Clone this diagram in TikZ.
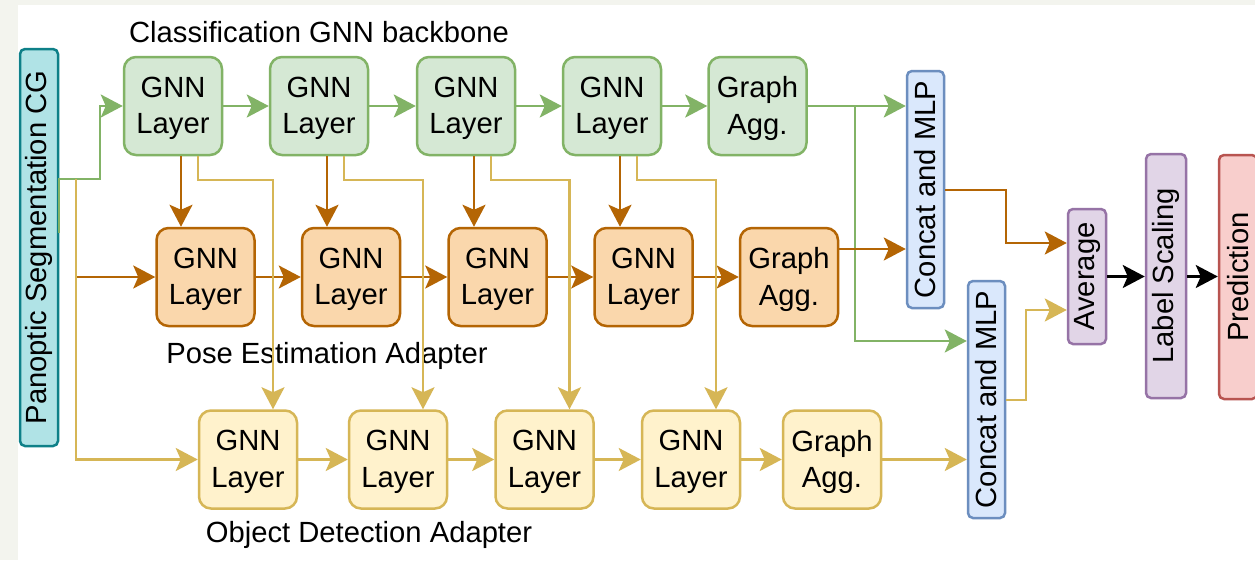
\documentclass[tikz,border=0pt]{standalone}
\usepackage{fontspec}
\setmainfont{Liberation Sans}
\usepackage{graphicx}
\usetikzlibrary{arrows.meta}

\definecolor{gstroke}{HTML}{82B366}\definecolor{gfill}{HTML}{D5E8D4}
\definecolor{ostroke}{HTML}{B46504}\definecolor{ofill}{HTML}{FAD7AC}
\definecolor{ystroke}{HTML}{D6B656}\definecolor{yfill}{HTML}{FFF2CC}
\definecolor{bstroke}{HTML}{6C8EBF}\definecolor{bfill}{HTML}{DAE8FC}
\definecolor{pstroke}{HTML}{9673A6}\definecolor{pfill}{HTML}{E1D5E7}
\definecolor{rstroke}{HTML}{B85450}\definecolor{rfill}{HTML}{F8CECC}
\definecolor{tstroke}{HTML}{0E8088}\definecolor{tfill}{HTML}{B0E3E6}
\definecolor{margin}{HTML}{F3F4EE}

\begin{document}
\begin{tikzpicture}[x=1pt,y=-1pt,
  lbl/.style={font=\fontsize{29.2}{36.6}\selectfont},
  box/.style={draw, line width=2.5pt, rounded corners=12pt,
    minimum width=98pt, minimum height=98pt, inner sep=0pt},
  boxtext/.style={label={[lbl, align=center, inner sep=0pt, yshift=-2.5pt]center:#1}},
  bar/.style={lbl, draw, line width=2.5pt, rounded corners=5pt, inner sep=0pt},
  gbox/.style={box, draw=gstroke, fill=gfill, boxtext=#1},
  obox/.style={box, draw=ostroke, fill=ofill, boxtext=#1},
  ybox/.style={box, draw=ystroke, fill=yfill, boxtext=#1},
  bluebar/.style={bar, draw=bstroke, fill=bfill},
  purplebar/.style={bar, draw=pstroke, fill=pfill},
  redbar/.style={bar, draw=rstroke, fill=rfill},
  tealbar/.style={bar, draw=tstroke, fill=tfill},
  conn/.style={line width=2.4pt, -{Stealth[length=22pt,width=23pt,inset=5pt]}},
  garr/.style={conn, draw=gstroke},
  oarr/.style={conn, draw=ostroke},
  yarr/.style={conn, draw=ystroke},
  karr/.style={conn, draw=black},
]
\useasboundingbox (0,0) rectangle (1255,560);
\fill[margin] (0,0) rectangle (1255,560);
\fill[white] (18,5) rectangle (1255,560);

% input graph
\node[tealbar, minimum width=38pt, minimum height=397pt] (pan) at (39,247.5)
  {\rotatebox{90}{Panoptic Segmentation CG}};

% classification backbone
\node[gbox={GNN\\Layer}] (g1) at (173,106) {};
\node[gbox={GNN\\Layer}] (g2) at (319,106) {};
\node[gbox={GNN\\Layer}] (g3) at (466,106) {};
\node[gbox={GNN\\Layer}] (g4) at (612,106) {};
\node[gbox={Graph\\Agg.}] (ga) at (757.5,106) {};

% pose estimation adapter
\node[obox={GNN\\Layer}] (o1) at (205.5,277) {};
\node[obox={GNN\\Layer}] (o2) at (351,277) {};
\node[obox={GNN\\Layer}] (o3) at (497.5,277) {};
\node[obox={GNN\\Layer}] (o4) at (643.5,277) {};
\node[obox={Graph\\Agg.}] (oa) at (789,277) {};

% object detection adapter
\node[ybox={GNN\\Layer}] (y1) at (248,459.5) {};
\node[ybox={GNN\\Layer}] (y2) at (398,459.5) {};
\node[ybox={GNN\\Layer}] (y3) at (544.5,459.5) {};
\node[ybox={GNN\\Layer}] (y4) at (691,459.5) {};
\node[ybox={Graph\\Agg.}] (ya) at (832,459.5) {};

% heads
\node[bluebar, minimum width=37pt, minimum height=237pt] (c1) at (925.5,189.5)
  {\rotatebox{90}{Concat and MLP}};
\node[bluebar, minimum width=37pt, minimum height=237pt] (c2) at (986.5,399.5)
  {\rotatebox{90}{Concat and MLP}};
\node[purplebar, minimum width=38pt, minimum height=135pt] (avg) at (1087,276.5)
  {\rotatebox{90}{Average}};
\node[purplebar, minimum width=40pt, minimum height=244pt] (ls) at (1166,276)
  {\rotatebox{90}{Label Scaling}};
\node[redbar, minimum width=38pt, minimum height=244pt] (pred) at (1238,277)
  {\rotatebox{90}{Prediction}};

% titles
\node[lbl, anchor=base] (t1) at (319,42) {Classification GNN backbone};
\node[lbl, anchor=base] (t2) at (327,363) {Pose Estimation Adapter};
\node[lbl, anchor=base] (t3) at (369,542) {Object Detection Adapter};

\coordinate (split) at (76,179);
\coordinate (gbr) at (855,106);

% green flow
\draw[garr] (pan.east |- 0,233) -- (pan.east |- split) -- (100,179) |- (g1);
\draw[garr] (g1) -- (g2);
\draw[garr] (g2) -- (g3);
\draw[garr] (g3) -- (g4);
\draw[garr] (g4) -- (ga);
\draw[garr] (ga) -- (ga -| c1.west);
\draw[garr] (gbr) |- (c2.west |- 0,341);

% orange flow
\draw[oarr] (split |- o1) -- (o1);
\draw[oarr] (o1) -- (o2);
\draw[oarr] (o2) -- (o3);
\draw[oarr] (o3) -- (o4);
\draw[oarr] (o4) -- (oa);
\draw[oarr] (oa.east |- 0,249) -- (c1.west |- 0,249);
\foreach \g/\o in {g1/o1,g2/o2,g3/o3,g4/o4}
  \draw[oarr] ([xshift=8pt]\g.south) -- ([xshift=8pt]\g.south |- \o.north);
\draw[oarr] (c1.east |- 0,190) -- (1006,190) |- (avg.west |- 0,243);

% yellow flow
\draw[yarr] (split) |- (y1);
\draw[yarr] (y1) -- (y2);
\draw[yarr] (y2) -- (y3);
\draw[yarr] (y3) -- (y4);
\draw[yarr] (y4) -- (ya);
\draw[yarr] (ya) -- (ya -| c2.west);
\foreach \g/\y in {g1/y1,g2/y2,g3/y3,g4/y4}
  \draw[yarr] ([xshift=25pt]\g.south) -- ++(0,24) -| ([xshift=25pt]\y.north);
\draw[yarr] (c2.east |- 0,400) -- (1026,400) |- (avg.west |- 0,310);

% output
\draw[karr] (avg.east) -- (avg.east -| ls.west);
\draw[karr] (ls.east |- avg.east) -- (pred.west |- avg.east);
\end{tikzpicture}
\end{document}
